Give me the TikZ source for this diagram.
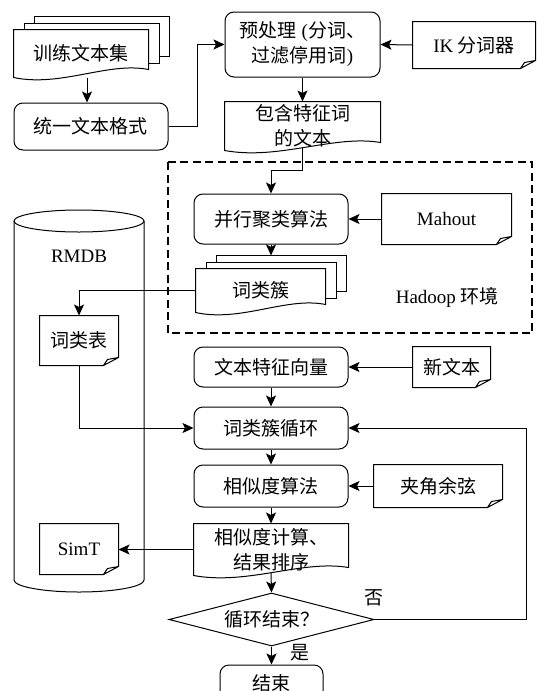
\documentclass[tikz,border=0pt]{standalone}
\usepackage{fontspec}
\setmainfont{Liberation Serif}
\newfontfamily\cjk{Noto Sans CJK SC}
\usetikzlibrary{arrows.meta,shapes.geometric,calc}

% document with a wavy bottom
\newcommand{\wavedoc}[1]{%
  \draw (#1.north west) -- (#1.north east) -- ($(#1.south east)+(0,-8)$)
    .. controls ($(#1.south west)!0.7!(#1.south east)+(0,-16)$) and ($(#1.south west)!0.35!(#1.south east)+(0,10)$) .. (#1.south west) -- cycle;}
% stack of documents: visible edges of the two sheets behind
\newcommand{\stackdoc}[1]{%
  \wavedoc{#1}
  \foreach \k in {1,2}
    \draw ($(#1.north west)+(10.5*\k,-6.5*\k+6.5)$) -- ($(#1.north west)+(10.5*\k,-6.5*\k)$)
      -- ($(#1.north east)+(10.5*\k,-6.5*\k)$) -- ($(#1.south east)+(10.5*\k,-8-6.5*\k)$)
      -- ($(#1.south east)+(10.5*\k-10.5,-8-6.5*\k)$);}
% note with folded corner
\newcommand{\notedoc}[1]{%
  \draw (#1.north west) -- (#1.north east) -- ($(#1.south east)+(0,-8)$) -- ($(#1.south east)+(-15,0)$) -- (#1.south west) -- cycle
        ($(#1.south east)+(-15,0)$) -- ($(#1.south east)+(-11,-6)$) -- ($(#1.south east)+(0,-8)$);}

\begin{document}
\begin{tikzpicture}[x=1pt,y=-1pt,line width=1pt,
  every node/.style={font=\cjk\fontsize{19}{25}\selectfont,align=center,inner sep=0pt},
  proc/.style={draw,rounded corners=9pt},
  arr/.style={-{Stealth[length=11pt,width=10pt,inset=2.5pt]}}]
\useasboundingbox (0,0) rectangle (537,691);

% top part
\node[minimum width=134pt,minimum height=47pt] (train) at (81,53.5) {训练文本集};
\stackdoc{train}
\node[proc,minimum width=154pt,minimum height=47pt] (unify) at (91,126.5) {统一文本格式};
\node[proc,minimum width=155pt,minimum height=65pt] (prep) at (302.5,44.5) {预处理{\rmfamily\ (}分词、\\过滤停用词{\rmfamily)}};
\node[minimum width=122pt,minimum height=46pt] (ik) at (474,45) {{\rmfamily IK} 分词器};
\notedoc{ik}
\node[minimum width=155pt,minimum height=48pt] (feat) at (302.5,126) {包含特征词\\的文本};
\wavedoc{feat}

% hadoop
\draw[dashed,line width=1.6pt,dash pattern=on 8pt off 4.5pt] (168,162) rectangle (532,333);
\node[proc,minimum width=154pt,minimum height=50pt] (cluster) at (271,219) {并行聚类算法};
\node[minimum width=129pt,minimum height=50pt] (mahout) at (446.5,219) {\rmfamily Mahout};
\notedoc{mahout}
\node[minimum width=129pt,minimum height=43pt] (words) at (260.5,290.5) {词类簇};
\stackdoc{words}
\node (hadoop) at (447,297) {{\rmfamily Hadoop} 环境};

% RMDB
\draw (14,221) -- (14,580) arc[start angle=180,end angle=0,x radius=65,y radius=12] -- (144,221);
\draw (79,221) ellipse [x radius=65,y radius=11];
\node (rmdb) at (79,256) {\rmfamily RMDB};
\node[minimum width=78pt,minimum height=49pt] (wtab) at (79,340.5) {词类表};
\notedoc{wtab}
\node[minimum width=78pt,minimum height=50pt] (simt) at (79,549) {\rmfamily SimT};
\notedoc{simt}

% lower part
\node[proc,minimum width=154pt,minimum height=40pt] (vec) at (271,367) {文本特征向量};
\node[minimum width=77pt,minimum height=40pt] (newtxt) at (451.5,367) {新文本};
\notedoc{newtxt}
\node[proc,minimum width=154pt,minimum height=42pt] (loop) at (271,428) {词类簇循环};
\node[proc,minimum width=154pt,minimum height=42pt] (sim) at (271,486) {相似度算法};
\node[minimum width=128pt,minimum height=42pt] (cos) at (438,486) {夹角余弦};
\notedoc{cos}
\node[minimum width=154pt,minimum height=51pt] (rank) at (271,549.5) {相似度计算、\\结果排序};
\wavedoc{rank}
\node[draw,diamond,aspect=3.9,minimum width=205pt,minimum height=53pt] (check) at (271.5,619.5) {循环结束？};
\node[proc,minimum width=103pt,minimum height=36pt] (stop) at (271.5,683) {结束};
\node (no) at (374,598) {否};
\node (yes) at (300,653) {是};

% arrows
\coordinate (t1) at ($(train.south)+(6,0)$);
\draw[arr] (t1) -- (t1 |- unify.north);
\draw[arr] (unify.east) -- ++(29,0) |- (prep.west);
\draw[arr] (ik.west) -- (prep.east);
\draw[arr] (prep.south) -- (feat.north);
\draw[arr] ([yshift=3pt]feat.south) -- ++(0,23) -| (cluster.north);
\draw[arr] (mahout.west) -- (cluster.east);
\coordinate (wtop) at ($(words.north)+(0,-13)$);
\draw[arr] (cluster.south) -- (cluster.south |- wtop);
\draw[arr] (words.west) -| (wtab.north);
\draw[arr] (wtab.south) |- (loop.west);
\draw[arr] (newtxt.west) -- (vec.east);
\draw[arr] (vec.south) -- (loop.north);
\draw[arr] (loop.south) -- (sim.north);
\draw[arr] (cos.west) -- (sim.east);
\draw[arr] (sim.south) -- (rank.north);
\draw[arr] (rank.west) -- (rank.west -| simt.east);
\draw[arr] ([yshift=3pt]rank.south) -- (check.north);
\draw[arr] (check.east) -- ++(152,0) |- (loop.east);
\draw[arr] (check.south) -- (stop.north);
\end{tikzpicture}
\end{document}
